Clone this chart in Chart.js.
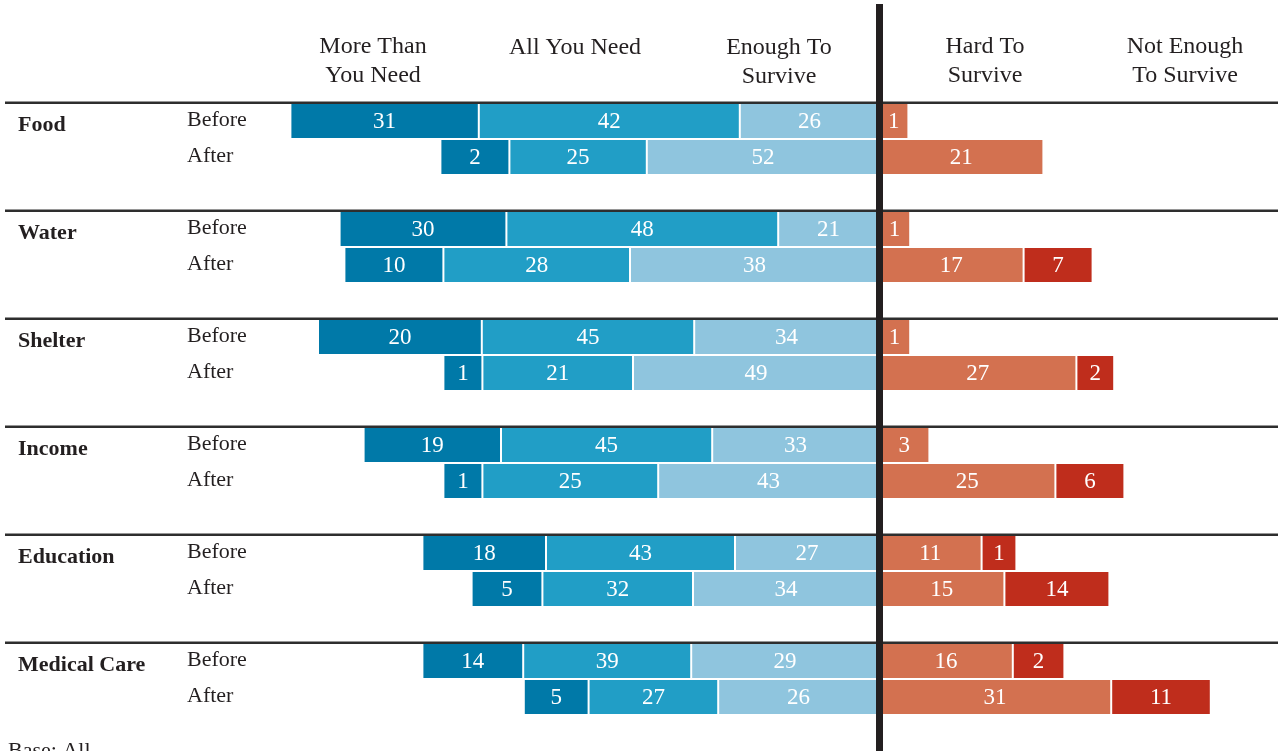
<!DOCTYPE html>
<html>
<head>
<meta charset="utf-8">
<script src="https://cdn.jsdelivr.net/npm/chart.js"></script>
<style>
  html, body { margin: 0; padding: 0; background: #fff; }
  #wrap { width: 1278px; height: 751px; position: relative; }
</style>
</head>
<body>
<div id="wrap"><canvas id="chart"></canvas></div>
<script>
// rows: each category has a Before and an After bar
const categories = ["Food", "Water", "Shelter", "Income", "Education", "Medical Care"];
const periods = ["Before", "After"];
const headers = ["More Than\nYou Need", "All You Need", "Enough To\nSurvive", "Hard To\nSurvive", "Not Enough\nTo Survive"];

// bar lengths as drawn, Food Before, Food After, Water Before, ...
const moreThan  = [31.4, 11.5, 27.8, 16.5, 27.3, 6.5, 22.9, 6.5, 20.6, 11.8, 16.8, 10.8];
const allNeed   = [43.5, 22.9, 45.3, 31.1, 35.4, 25.1, 35.2, 29.3, 31.5, 25.1, 28.0, 21.6];
const enoughTo  = [23.2, 38.7, 16.8, 41.5, 30.8, 41.0, 27.8, 36.8, 24.0, 31.0, 31.3, 26.8];
const hardTo    = [4.9, 27.4, 5.2, 24.1, 5.2, 32.9, 8.4, 29.4, 17.1, 20.9, 22.3, 38.7];
const notEnough = [null, null, null, 11.5, null, 6.3, null, 11.5, 5.8, 17.5, 8.6, 16.6];

// numbers printed on the bars
const moreThanLbl  = [31, 2, 30, 10, 20, 1, 19, 1, 18, 5, 14, 5];
const allNeedLbl   = [42, 25, 48, 28, 45, 21, 45, 25, 43, 32, 39, 27];
const enoughToLbl  = [26, 52, 21, 38, 34, 49, 33, 43, 27, 34, 29, 26];
const hardToLbl    = [1, 21, 1, 17, 1, 27, 3, 25, 11, 15, 16, 31];
const notEnoughLbl = [null, null, null, 7, null, 2, null, 6, 1, 14, 2, 11];

const colors = ["#0079a8", "#219ec6", "#8fc5de", "#d37150", "#bf2d1c"];
const serif = "'Liberation Serif', 'DejaVu Serif', serif";

// 3 slots per category: Before, After, empty spacer
const slots = [];
categories.forEach(c => { slots.push(c + " Before", c + " After", ""); });

function toSlots(arr, sign) {
  let out = [];
  for (let g = 0; g < categories.length; g++) {
    for (let p = 0; p < 2; p++) {
      let v = arr[g * 2 + p];
      out.push(v == null ? null : v * sign);
    }
    out.push(null);
  }
  return out;
}

// negative side stacks outward from zero in dataset order
const series = [
  { name: "Enough To Survive", vals: enoughTo, lbl: enoughToLbl, sign: -1, color: colors[2] },
  { name: "All You Need", vals: allNeed, lbl: allNeedLbl, sign: -1, color: colors[1] },
  { name: "More Than You Need", vals: moreThan, lbl: moreThanLbl, sign: -1, color: colors[0] },
  { name: "Hard To Survive", vals: hardTo, lbl: hardToLbl, sign: 1, color: colors[3] },
  { name: "Not Enough To Survive", vals: notEnough, lbl: notEnoughLbl, sign: 1, color: colors[4] },
];

const datasets = series.map(s => ({
  label: s.name,
  data: toSlots(s.vals, s.sign),
  backgroundColor: s.color,
  borderColor: "#ffffff",
  borderWidth: 1,
  borderSkipped: false,
  inflateAmount: 0,
  barPercentage: 1,
  categoryPercentage: 1,
}));

const decor = {
  id: "decor",
  afterDatasetsDraw(chart) {
    const ctx = chart.ctx;
    const xs = chart.scales.x, ys = chart.scales.y;
    ctx.save();

    // numbers on bars
    ctx.fillStyle = "#ffffff";
    ctx.font = "23px " + serif;
    ctx.textAlign = "center";
    ctx.textBaseline = "middle";
    series.forEach((s, i) => {
      const meta = chart.getDatasetMeta(i);
      const lbl = toSlots(s.lbl, 1);
      lbl.forEach((v, j) => {
        if (v == null) return;
        const el = meta.data[j];
        ctx.fillText(String(v), (el.x + el.base) / 2, el.y + 1);
      });
    });

    // separator rules above each category
    ctx.fillStyle = "#2e2e2e";
    categories.forEach((c, g) => {
      const y = ys.getPixelForValue(g * 3) - 18;
      ctx.fillRect(5, y - 1.5, chart.width - 5, 2.5);
    });

    // row labels
    ctx.fillStyle = "#231f20";
    ctx.textAlign = "left";
    ctx.textBaseline = "alphabetic";
    categories.forEach((c, g) => {
      const yb = ys.getPixelForValue(g * 3);
      ctx.font = "bold 22px " + serif;
      ctx.fillText(c, 18, yb + 10);
      ctx.font = "22px " + serif;
      periods.forEach((p, k) => {
        const y = ys.getPixelForValue(g * 3 + k);
        ctx.fillText(p, 187, y + 5);
      });
    });

    // zero line
    const x0 = xs.getPixelForValue(0);
    ctx.fillStyle = "#231f20";
    ctx.fillRect(x0 - 3, 4, 7, chart.height - 4);

    // column headers
    ctx.font = "24px " + serif;
    ctx.textAlign = "center";
    const hx = [373, 575, 779, 985, 1185];
    const hy = [53, 54, 54, 53, 53];
    headers.forEach((h, i) => {
      h.split("\n").forEach((line, k) => {
        ctx.fillText(line, hx[i], hy[i] + k * 29);
      });
    });

    // base note (cut off at bottom)
    ctx.textAlign = "left";
    ctx.font = "22px " + serif;
    ctx.fillText("Base: All", 8, 757);
    ctx.restore();
  }
};

new Chart(document.getElementById("chart"), {
  type: "bar",
  data: { labels: slots, datasets: datasets },
  options: {
    indexAxis: "y",
    responsive: true,
    maintainAspectRatio: false,
    animation: false,
    layout: { padding: { left: 279, right: 39, top: 103, bottom: 0 } },
    plugins: { legend: { display: false }, tooltip: { enabled: false } },
    scales: {
      x: { stacked: true, min: -100, max: 60, display: false },
      y: { stacked: true, display: false },
    },
  },
  plugins: [decor],
});
</script>
</body>
</html>
